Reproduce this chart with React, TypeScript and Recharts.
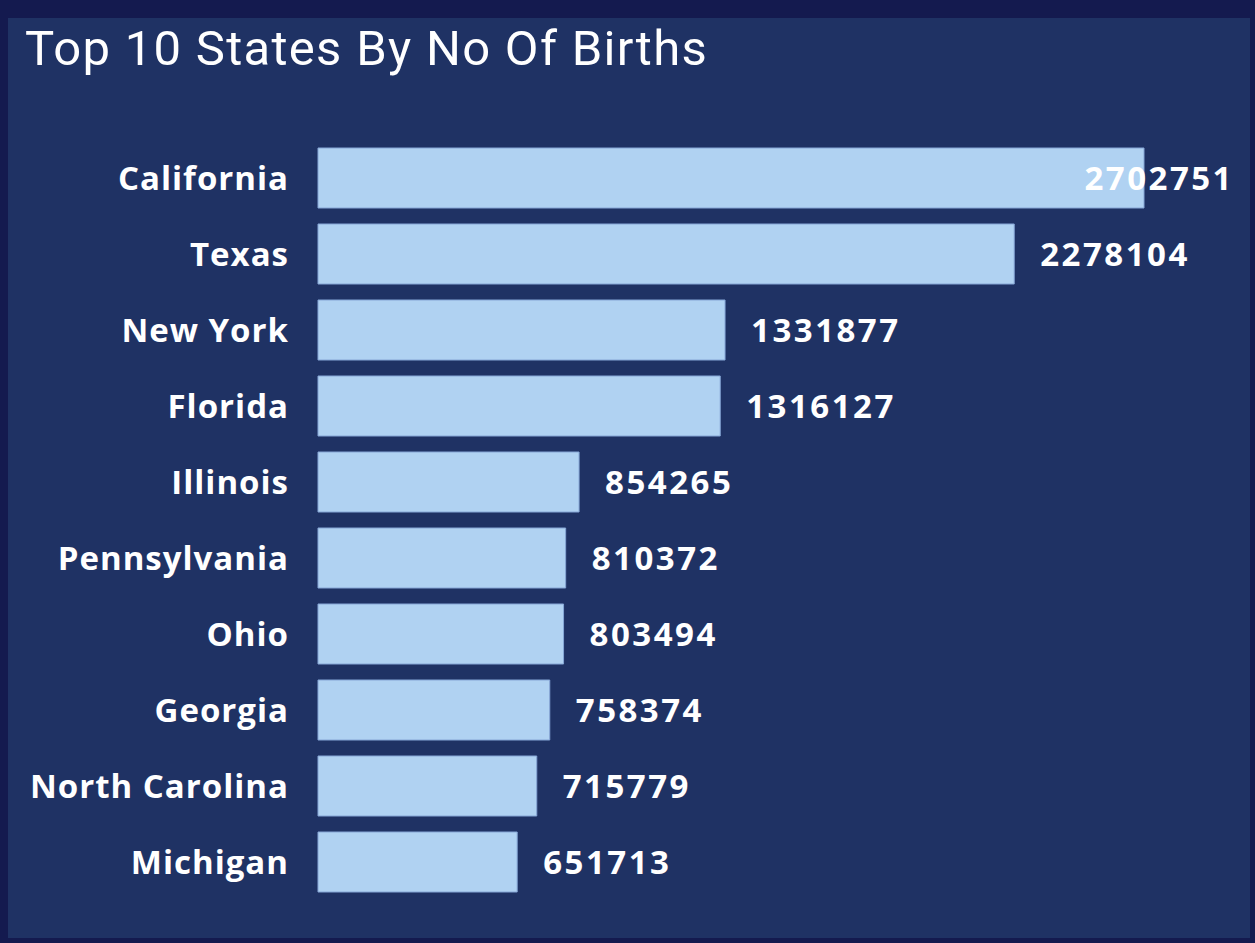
import React from 'react';
import { BarChart, Bar, XAxis, YAxis, LabelList } from 'recharts';

const states = ['California', 'Texas', 'New York', 'Florida', 'Illinois', 'Pennsylvania', 'Ohio', 'Georgia', 'North Carolina', 'Michigan'];
const births = [2702751, 2278104, 1331877, 1316127, 854265, 810372, 803494, 758374, 715779, 651713];

const data = states.map((name, i) => ({ name, births: births[i] }));

const labelFont = '"Open Sans", "Noto Sans", sans-serif';
const rightLimit = 1234;

const ValueLabel = (props: any) => {
  const { x, y, width, height, value } = props;
  const text = String(value);
  const fontSize = 33;
  const est = text.length * (fontSize * 0.57 + 2.5);
  let tx = x + width + 26;
  let anchor: 'start' | 'end' = 'start';
  if (tx + est > rightLimit) {
    tx = rightLimit;
    anchor = 'end';
  }
  return (
    <text
      x={tx}
      y={y + height / 2}
      dy="0.36em"
      textAnchor={anchor}
      fill="#ffffff"
      fontFamily={labelFont}
      fontWeight={700}
      fontSize={fontSize}
      letterSpacing={2.5}
    >
      {text}
    </text>
  );
};

export default function App() {
  return (
    <div style={{ position: 'absolute', left: 0, top: 0, width: 1255, height: 943, background: '#141a4f' }}>
      <div style={{ position: 'absolute', left: 8, top: 18, width: 1242, height: 920, background: '#1f3264' }} />
      <div
        style={{
          position: 'absolute',
          left: 25,
          top: 20,
          color: '#ffffff',
          fontFamily: 'Roboto, sans-serif',
          fontSize: 49,
          letterSpacing: 1.3,
          whiteSpace: 'nowrap',
        }}
      >
        Top 10 States By No Of Births
      </div>
      <div style={{ position: 'absolute', left: 0, top: 0 }}>
        <BarChart
          width={1255}
          height={943}
          data={data}
          layout="vertical"
          margin={{ top: 140, right: 111, bottom: 43, left: 0 }}
          barCategoryGap={8}
        >
          <XAxis type="number" hide domain={[0, 'dataMax']} />
          <YAxis
            type="category"
            dataKey="name"
            width={318}
            axisLine={false}
            tickLine={false}
            tickSize={0}
            tickMargin={29}
            tick={{ fill: '#ffffff', fontSize: 33, fontWeight: 700, fontFamily: labelFont, letterSpacing: 1 }}
          />
          <Bar dataKey="births" fill="#b0d2f2" stroke="#86a6d6" strokeWidth={1} isAnimationActive={false}>
            <LabelList dataKey="births" content={ValueLabel} />
          </Bar>
        </BarChart>
      </div>
    </div>
  );
}
